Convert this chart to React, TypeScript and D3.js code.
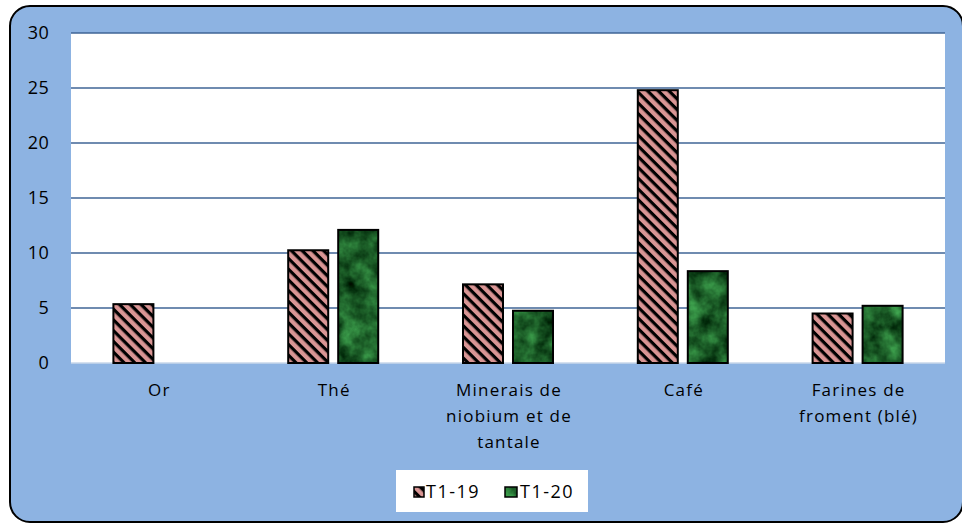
import * as d3 from "d3";

const categories = ["Or", "Thé", "Minerais de niobium et de tantale", "Café", "Farines de froment (blé)"];
const categoryLines = [["Or"], ["Thé"], ["Minerais de", "niobium et de", "tantale"], ["Café"], ["Farines de", "froment (blé)"]];
const seriesNames = ["T1-19", "T1-20"];
const t119 = [5.35, 10.25, 7.15, 24.8, 4.5];
const t120: (number | null)[] = [null, 12.1, 4.75, 8.35, 5.2];
const yTicks = [0, 5, 10, 15, 20, 25, 30];

const W = 962;
const H = 524;
const plot = { left: 71, right: 945, top: 33, bottom: 363 };
const FONT = "'Open Sans', sans-serif";

export default function App() {
  const x = d3.scaleBand<string>().domain(categories).range([plot.left, plot.right]).paddingInner(0).paddingOuter(0);
  const groupW = 90;
  const xs = d3.scaleBand<string>().domain(seriesNames).range([0, groupW]).paddingInner(0.2);
  const y = d3.scaleLinear().domain([0, 30]).range([plot.bottom, plot.top]);
  const offset = (x.bandwidth() - groupW) / 2;

  const series = [
    { name: "T1-19", values: t119 as (number | null)[], fill: "url(#hatch)" },
    { name: "T1-20", values: t120, fill: "url(#marble)" },
  ];

  return (
    <svg width={W} height={H} style={{ position: "absolute", left: 0, top: 0, background: "#fff" }}>
      <defs>
        <pattern id="hatch" patternUnits="userSpaceOnUse" width={7.6} height={7.6} patternTransform="rotate(45)">
          <rect width={7.6} height={7.6} fill="#D99594" />
          <rect width={7.6} height={3.2} fill="#000" />
        </pattern>
        <filter id="marbleFilter" x="0" y="0" width="100%" height="100%" colorInterpolationFilters="sRGB">
          <feTurbulence type="fractalNoise" baseFrequency="0.05" numOctaves={4} seed={3} />
          <feColorMatrix
            type="matrix"
            values="0.4 0 0 0 -0.1  0.8 0 0 0 -0.05  0.45 0 0 0 -0.08  0 0 0 0 1"
          />
        </filter>
        <pattern id="marble" patternUnits="userSpaceOnUse" width={W} height={H}>
          <rect width={W} height={H} filter="url(#marbleFilter)" />
        </pattern>
      </defs>

      <rect x={10} y={6} width={953} height={516} rx={20} fill="#8DB3E2" stroke="#000" strokeWidth={2} />

      <rect x={plot.left} y={plot.top} width={plot.right - plot.left} height={plot.bottom - plot.top} fill="#fff" />

      {yTicks.map((t) => (
        <g key={t}>
          {t > 0 && (
            <line x1={plot.left} x2={plot.right} y1={y(t)} y2={y(t)} stroke="#3F6496" strokeWidth={1.3} />
          )}
          <text x={49} y={y(t)} dy="0.36em" textAnchor="end" fontFamily={FONT} fontSize={18} fontWeight={500} letterSpacing={0.3} fill="#000">
            {t}
          </text>
        </g>
      ))}
      <line x1={plot.left} x2={plot.right} y1={y(0)} y2={y(0)} stroke="#C9D7EA" strokeWidth={1.5} />

      {series.map((s) =>
        s.values.map((v, i) =>
          v == null ? null : (
            <rect
              key={s.name + i}
              x={(x(categories[i]) ?? 0) + offset + (xs(s.name) ?? 0)}
              y={y(v)}
              width={xs.bandwidth()}
              height={y(0) - y(v)}
              fill={s.fill}
              stroke="#000"
              strokeWidth={2}
            />
          )
        )
      )}

      {categoryLines.map((lines, i) => {
        const cx = (x(categories[i]) ?? 0) + x.bandwidth() / 2 + 1;
        return (
          <text
            key={i}
            x={cx}
            y={396}
            textAnchor="middle"
            fontFamily={FONT}
            fontSize={17}
            fontWeight={500}
            letterSpacing={1.2}
            fill="#000"
          >
            {lines.map((l, j) => (
              <tspan key={j} x={cx} dy={j === 0 ? 0 : 26}>
                {l}
              </tspan>
            ))}
          </text>
        );
      })}

      <g>
        <rect x={396} y={470} width={192} height={42} fill="#fff" />
        <rect x={414} y={487} width={10} height={10} fill="url(#hatch)" stroke="#000" strokeWidth={1.5} />
        <text x={426} y={498} fontFamily={FONT} fontSize={18} fontWeight={500} letterSpacing={1.5} fill="#000">{seriesNames[0]}</text>
        <rect x={505} y={487} width={12} height={10} fill="url(#marble)" stroke="#000" strokeWidth={1.5} />
        <text x={520} y={498} fontFamily={FONT} fontSize={18} fontWeight={500} letterSpacing={1.5} fill="#000">{seriesNames[1]}</text>
      </g>
    </svg>
  );
}
